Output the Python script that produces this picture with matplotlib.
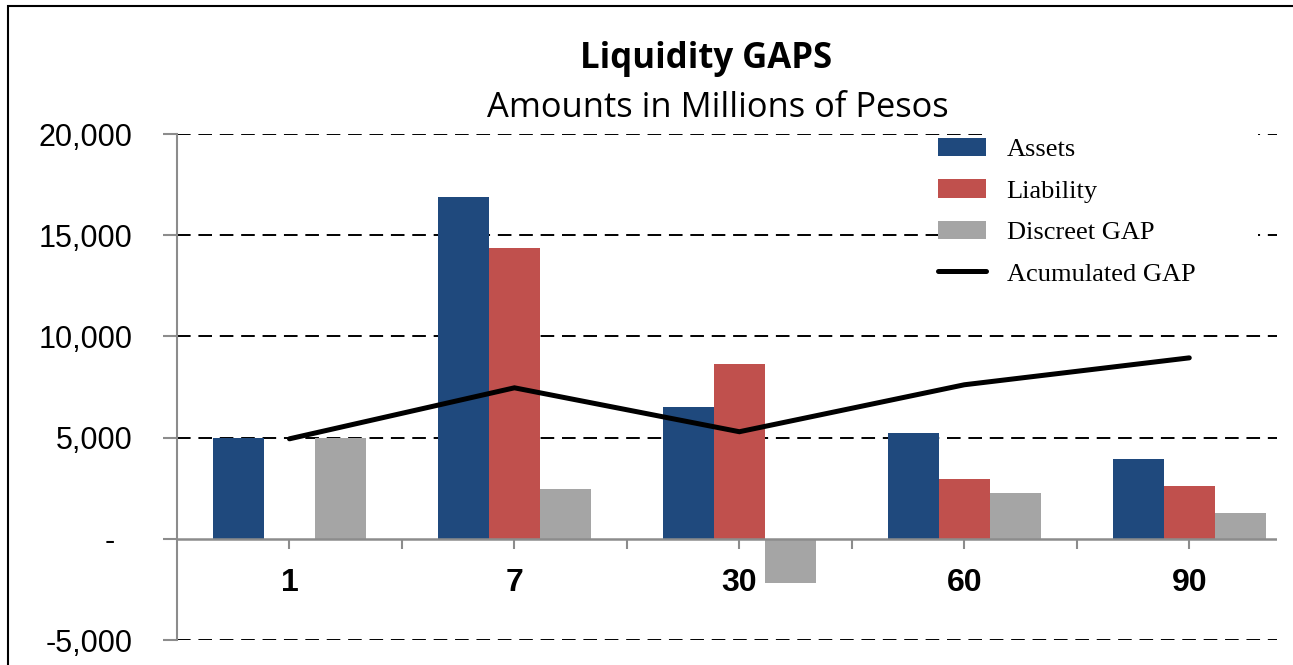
import numpy as np
import matplotlib
matplotlib.use("Agg")
import matplotlib.pyplot as plt
from matplotlib.patches import Rectangle
from matplotlib.ticker import FixedLocator, FuncFormatter

# plazos (días)
categories = ["1", "7", "30", "60", "90"]
assets = [5000, 16900, 6520, 5240, 3950]
liability = [0, 14380, 8650, 2960, 2620]
discreet_gap = [5000, 2470, -2170, 2270, 1285]
acum_gap = [4940, 7460, 5290, 7610, 8940]

yticks = [-5000, 0, 5000, 10000, 15000, 20000]

c_assets = "#1F497D"
c_liab = "#C0504D"
c_gap = "#A5A5A5"
c_axis = "#8C8C8C"


def fmt_y(v, pos):
    if v == 0:
        return "-  "
    return f"{int(v):,}"


fig = plt.figure(figsize=(12.93, 6.65), dpi=100)
ax = fig.add_axes([177 / 1293, 1 - 640 / 665, 1100 / 1293, 506 / 665])

x = np.arange(len(categories))
w = 0.227

b1 = ax.bar(x - w, assets, w, color=c_assets, label="Assets", zorder=3)
b2 = ax.bar(x, liability, w, color=c_liab, label="Liability", zorder=3)
b3 = ax.bar(x + w, discreet_gap, w, color=c_gap, label="Discreet GAP", zorder=3)
l1, = ax.plot(x, acum_gap, color="black", lw=3.6, solid_capstyle="round",
              solid_joinstyle="miter", label="Acumulated GAP", zorder=5)

ax.set_xlim(-0.5, 4.39)
ax.set_ylim(-5000, 20000)

# eje x sobre el cero (antes de fijar ticks, porque los reinicia)
ax.spines["bottom"].set_position(("data", 0))

ax.yaxis.set_major_locator(FixedLocator(yticks))
ax.yaxis.set_major_formatter(FuncFormatter(fmt_y))
for v in yticks:
    if v != 0:
        ax.axhline(v, color="black", lw=1.4, ls=(0, (7, 4)), zorder=1)
ax.axhline(0, color=c_axis, lw=1.8, zorder=4)

for s in ["top", "right", "bottom"]:
    ax.spines[s].set_visible(False)
ax.spines["left"].set_color(c_axis)
ax.spines["left"].set_linewidth(1.5)

ax.set_xticks(x)
ax.set_xticklabels(categories, fontsize=23, fontweight="bold",
                   fontfamily="Liberation Sans")
ax.set_xticks(np.arange(-0.5, 4.39, 1.0)[1:], minor=True)
ax.tick_params(axis="x", which="both", direction="out", length=7, width=1.5,
               color=c_axis, pad=14)
ax.tick_params(axis="y", direction="out", length=10, width=1.5,
               color=c_axis, pad=22, labelsize=22)
for t in ax.get_yticklabels():
    t.set_fontfamily("Liberation Sans")

fig.text(0.546, 1 - 68 / 665, "Liquidity GAPS", ha="center", va="baseline",
         fontsize=25, fontweight="bold", fontfamily="Open Sans")
fig.text(0.555, 1 - 117 / 665, "Amounts in Millions of Pesos", ha="center",
         va="baseline", fontsize=24.8, fontfamily="Open Sans")

# fondo blanco de la leyenda (tapa la cuadrícula)
ax.add_patch(Rectangle((985 / 1293, 1 - 300 / 665), 273 / 1293, 172 / 665,
                       transform=fig.transFigure, facecolor="white",
                       edgecolor="none", zorder=2))

leg = ax.legend([b1, b2, b3, l1],
                ["Assets", "Liability", "Discreet GAP", "Acumulated GAP"],
                loc="upper left", bbox_to_anchor=(938 / 1293, 1 - 138 / 665),
                bbox_transform=fig.transFigure, frameon=True, facecolor="white",
                edgecolor="none", framealpha=1, fancybox=False, borderpad=0,
                borderaxespad=0, handlelength=1.8, handleheight=0.7,
                handletextpad=0.8, labelspacing=0.68,
                prop={"family": "Liberation Serif", "size": 19})

fig.add_artist(Rectangle((8 / 1293, -0.1), 1.2, 1 - 6 / 665 + 0.1,
                         transform=fig.transFigure, fill=False,
                         edgecolor="black", lw=1.5))

fig.savefig("out.png", dpi=100)
